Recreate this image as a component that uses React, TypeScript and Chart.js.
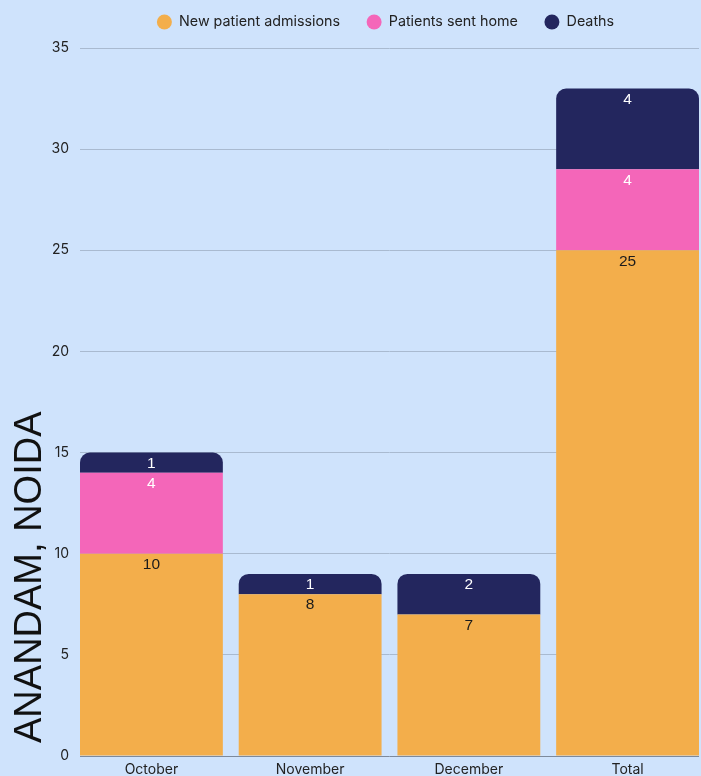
import React, { useEffect, useRef } from "react";
import { Chart, registerables } from "chart.js";

Chart.register(...registerables);

const categories = ["October", "November", "December", "Total"];
const admissions = [10, 8, 7, 25];
const sentHome = [4, 0, 0, 4];
const deaths = [1, 1, 2, 4];
const seriesNames = ["New patient admissions", "Patients sent home", "Deaths"];
const yTicks = [0, 5, 10, 15, 20, 25, 30, 35];
const yTitle = "ANANDAM, NOIDA";

const BG = "#cfe3fc";
const ORANGE = "#f3ae4b";
const PINK = "#f466b9";
const NAVY = "#23265e";

const toPoints = (vals: number[]) => vals.map((v, i) => ({ x: i, y: v }));

const bgPlugin = {
  id: "bgFill",
  beforeDraw(chart: any) {
    const { ctx, width, height } = chart;
    ctx.save();
    ctx.fillStyle = BG;
    ctx.fillRect(0, 0, width, height);
    ctx.restore();
  },
};

const legendFitPlugin = {
  id: "legendFit",
  beforeUpdate(chart: any) {
    const lg = chart.legend;
    if (lg && !lg.__patched) {
      lg.__patched = true;
      const origFit = lg.fit;
      lg.fit = function (...args: any[]) {
        origFit.apply(this, args);
        this.height = 48;
      };
    }
  },
};

const yTitlePlugin = {
  id: "yTitle",
  afterDraw(chart: any) {
    const { ctx, chartArea } = chart;
    ctx.save();
    ctx.translate(31, chartArea.bottom - 13);
    ctx.rotate(-Math.PI / 2);
    ctx.font = '38px "Liberation Sans", Arial, sans-serif';
    ctx.fillStyle = "#111111";
    ctx.textAlign = "left";
    ctx.textBaseline = "middle";
    ctx.fillText(yTitle, 0, 0);
    ctx.restore();
  },
};

const labelPlugin = {
  id: "segLabels",
  afterDatasetsDraw(chart: any) {
    const { ctx } = chart;
    ctx.save();
    ctx.font = '15.5px "Liberation Sans", Arial, sans-serif';
    ctx.textAlign = "center";
    ctx.textBaseline = "middle";
    chart.data.datasets.forEach((ds: any, di: number) => {
      const meta = chart.getDatasetMeta(di);
      meta.data.forEach((el: any, i: number) => {
        const v = ds.data[i].y;
        if (!v) return;
        ctx.fillStyle = di === 0 ? "#1b1b1b" : "#ffffff";
        ctx.fillText(String(v), el.x, el.y + 11);
      });
    });
    ctx.restore();
  },
};

export default function App() {
  const ref = useRef<HTMLCanvasElement | null>(null);

  useEffect(() => {
    document.body.style.margin = "0";
    document.body.style.background = BG;
    const canvas = ref.current!;
    const chart = new Chart(canvas, {
      type: "bar",
      data: {
        datasets: [
          { label: seriesNames[0], data: toPoints(admissions), backgroundColor: ORANGE, borderWidth: 0 },
          { label: seriesNames[1], data: toPoints(sentHome), backgroundColor: PINK, borderWidth: 0 },
          {
            label: seriesNames[2],
            data: toPoints(deaths),
            backgroundColor: NAVY,
            borderWidth: 0,
            borderSkipped: "start",
            borderRadius: { topLeft: 10, topRight: 10, bottomLeft: 0, bottomRight: 0 },
          },
        ] as any,
      },
      options: {
        animation: false,
        responsive: false,
        maintainAspectRatio: false,
        layout: { padding: { top: 0, right: 2, left: 0, bottom: 0 } },
        datasets: { bar: { categoryPercentage: 1, barPercentage: 0.9 } } as any,
        plugins: {
          tooltip: { enabled: false },
          legend: {
            position: "top",
            fullSize: false,
            labels: {
              boxWidth: 15,
              boxHeight: 15,
              useBorderRadius: true,
              borderRadius: 7.5,
              padding: 14.5,
              color: "#222222",
              font: { family: "Inter", size: 14.3 },
              generateLabels(chart: any) {
                const items = Chart.defaults.plugins.legend.labels.generateLabels(chart);
                return items.map((it: any, i: number) => ({
                  ...it,
                  text: i < items.length - 1 ? it.text + "   " : it.text + "  ",
                  lineWidth: 0,
                }));
              },
            } as any,
          },
        },
        scales: {
          x: {
            type: "linear",
            stacked: true,
            min: -0.45,
            max: 3.45,
            offset: false,
            grid: { display: false, drawTicks: false },
            border: { display: false },
            ticks: {
              stepSize: 1,
              includeBounds: false,
              padding: 5,
              color: "#222222",
              font: { family: "Inter", size: 14 },
              callback: (v: any) => categories[v] ?? "",
            } as any,
            afterFit: (scale: any) => {
              scale.paddingLeft = 0;
              scale.paddingRight = 0;
              scale.height = 20;
            },
          } as any,
          y: {
            stacked: true,
            min: 0,
            max: 35,
            afterBuildTicks: (scale: any) => {
              scale.ticks = yTicks.map((v) => ({ value: v }));
            },
            afterFit: (scale: any) => {
              scale.width = 80;
            },
            grid: {
              drawTicks: false,
              color: (c: any) => (c.tick && c.tick.value === 0 ? "#7d8a9c" : "#a9bad0"),
              lineWidth: 1,
            },
            border: { display: false },
            ticks: {
              padding: 11,
              color: "#222222",
              font: { family: "Inter", size: 14 },
            },
          } as any,
        },
      },
      plugins: [bgPlugin, legendFitPlugin, labelPlugin, yTitlePlugin],
    });
    return () => chart.destroy();
  }, []);

  return (
    <div style={{ width: 701, height: 776, background: BG }}>
      <canvas ref={ref} width={701} height={776} style={{ display: "block" }} />
    </div>
  );
}
